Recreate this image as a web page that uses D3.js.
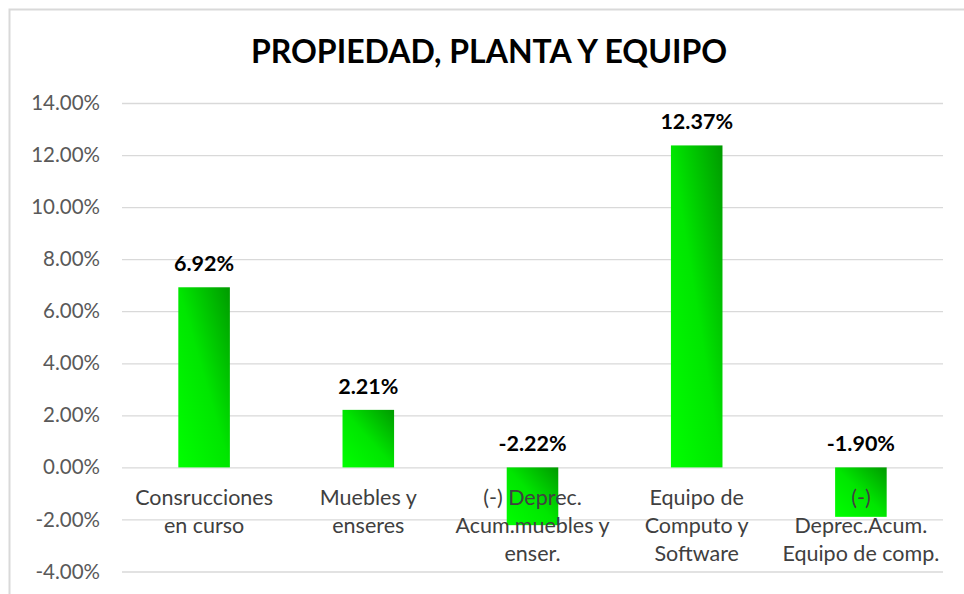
<!DOCTYPE html>
<html>
<head>
<meta charset="utf-8">
<script src="https://cdn.jsdelivr.net/npm/d3@7"></script>
<style>
	body { margin:0; background:#fff; }
	svg { display:block; }
</style>
</head>
<body>
<div id="idChart"></div>
<script>
// chart data
var aCategories=[
	["Consrucciones","en curso"],
	["Muebles y","enseres"],
	["(-) Deprec.","Acum.muebles y","enser."],
	["Equipo de","Computo y","Software"],
	["(-)","Deprec.Acum.","Equipo de comp."]
];
var aValues=[0.0692, 0.0221, -0.0222, 0.1237, -0.0190];
var aTicks=[-0.04, -0.02, 0, 0.02, 0.04, 0.06, 0.08, 0.10, 0.12, 0.14];
var sTitle="PROPIEDAD, PLANTA Y EQUIPO";

var iWidth=964;
var iHeight=594;
var sFont="Lato, 'Open Sans', sans-serif";

// plain hyphen for negatives, as in the original
var fPct=d3.formatLocale({decimal:".", thousands:",", grouping:[3], currency:["",""], minus:"-"}).format(".2%");

var myCanvas=d3.select("#idChart").append("svg")
	.attr("width", iWidth)
	.attr("height", iHeight);

// green gradient for bars
var myGrad=myCanvas.append("defs").append("linearGradient")
	.attr("id","idBarGrad")
	.attr("x1",0).attr("y1",1)
	.attr("x2",1).attr("y2",0);
myGrad.append("stop").attr("offset","0%").attr("stop-color","#00ff00");
myGrad.append("stop").attr("offset","50%").attr("stop-color","#00e600");
myGrad.append("stop").attr("offset","100%").attr("stop-color","#009a00");

// chart frame (only top and left edges visible)
myCanvas.append("path")
	.attr("d","M9.5," + iHeight + "V9.5H" + iWidth)
	.attr("fill","none")
	.attr("stroke","#d9d9d9")
	.attr("stroke-width",2);

myCanvas.append("text")
	.attr("x",489)
	.attr("y",63)
	.attr("text-anchor","middle")
	.attr("font-family",sFont)
	.attr("font-weight","bold")
	.attr("font-size",32)
	.attr("fill","#000")
	.text(sTitle);

var xScale=d3.scaleBand()
	.domain(d3.range(aValues.length))
	.range([122, 943])
	.paddingInner(0.686)
	.paddingOuter(0.343);

var yScale=d3.scaleLinear()
	.domain([-0.04, 0.14])
	.range([571.5, 103]);

// gridlines + tick labels
var yAxis=d3.axisLeft(yScale)
	.tickValues(aTicks)
	.tickSize(-(943-122))
	.tickPadding(22)
	.tickFormat(fPct);

var myAxisG=myCanvas.append("g")
	.attr("transform","translate(122,0)")
	.call(yAxis);
myAxisG.select(".domain").remove();
myAxisG.selectAll(".tick line")
	.attr("stroke","#d9d9d9")
	.attr("stroke-width",1.3);
myAxisG.selectAll(".tick text")
	.attr("font-family",sFont)
	.attr("font-size",20.5)
	.attr("fill","#595959");

// bars
myCanvas.append("g").selectAll("rect")
	.data(aValues)
	.enter()
	.append("rect")
		.attr("x",function(d,i){return xScale(i);})
		.attr("y",function(d){return yScale(Math.max(0,d));})
		.attr("width",xScale.bandwidth())
		.attr("height",function(d){return Math.abs(yScale(d)-yScale(0));})
		.attr("fill","url(#idBarGrad)");

// data labels
myCanvas.append("g").selectAll("text")
	.data(aValues)
	.enter()
	.append("text")
		.attr("x",function(d,i){return xScale(i)+xScale.bandwidth()/2;})
		.attr("y",function(d){return yScale(Math.max(0,d))-16;})
		.attr("text-anchor","middle")
		.attr("font-family",sFont)
		.attr("font-weight","bold")
		.attr("font-size",21.5)
		.attr("fill","#000")
		.text(function(d){return fPct(d);});

// category labels
var myCatG=myCanvas.append("g").selectAll("text")
	.data(aCategories)
	.enter()
	.append("text")
		.attr("x",function(d,i){return xScale(i)+xScale.bandwidth()/2;})
		.attr("y",yScale(0)+38)
		.attr("text-anchor","middle")
		.attr("font-family",sFont)
		.attr("font-size",21.5)
		.attr("fill","#404040");
myCatG.selectAll("tspan")
	.data(function(d){return d;})
	.enter()
	.append("tspan")
		.attr("x",function(){return d3.select(this.parentNode).attr("x");})
		.attr("dy",function(d,i){return i==0 ? 0 : 28;})
		.text(function(d){return d;});
</script>
</body>
</html>
